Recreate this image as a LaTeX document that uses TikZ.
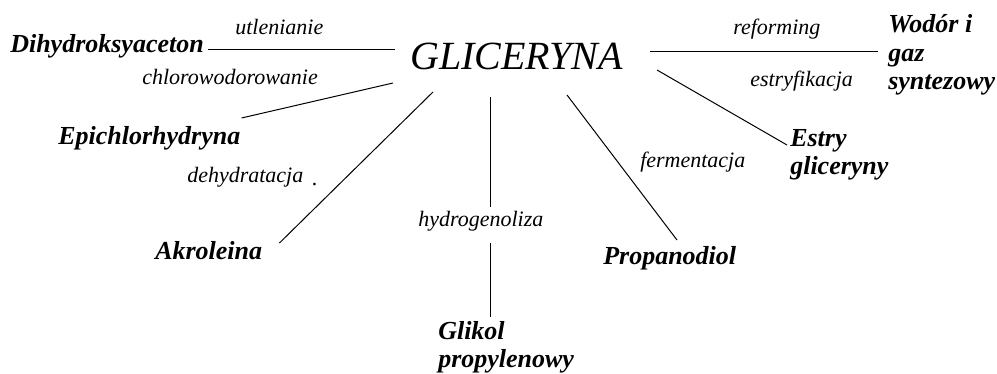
\documentclass[tikz,border=0pt]{standalone}
\usepackage{fontspec}
\setmainfont{Liberation Serif}
\begin{document}
\begin{tikzpicture}[x=0.75pt,y=-0.75pt,
  glic/.style={font=\fontsize{30}{32}\selectfont\itshape, inner sep=0pt},
  prod/.style={font=\fontsize{19.5}{21.4}\selectfont\bfseries\itshape, inner sep=0pt, align=left},
  proc/.style={font=\fontsize{16.5}{18}\selectfont\itshape, inner sep=0pt},
  conn/.style={line width=0.75pt}]
  \useasboundingbox (0,0) rectangle (997,374);
  % substrat
  \node[glic, anchor=base west] (glic) at (410,70) {GLICERYNA};
  % produkty (wielowierszowe: base = ostatni wiersz)
  \node[prod, anchor=base west] (dihy) at (10,53) {Dihydroksyaceton};
  \node[prod, anchor=base west] (epi) at (58,145) {Epichlorhydryna};
  \node[prod, anchor=base west] (akro) at (155,260) {Akroleina};
  \node[prod, anchor=base west] (glik) at (438,368) {Glikol\\propylenowy};
  \node[prod, anchor=base west] (prop) at (603,265) {Propanodiol};
  \node[prod, anchor=base west] (estry) at (790,175) {Estry\\gliceryny};
  \node[prod, anchor=base west] (wodor) at (888,90) {Wodór i\\gaz\\syntezowy};
  % procesy
  \node[proc, anchor=base west] (utl) at (235,35) {utlenianie};
  \node[proc, anchor=base west] (chlor) at (142,85) {chlorowodorowanie};
  \node[proc, anchor=base west] (dehy) at (187,183) {dehydratacja};
  \node[proc] (kropka) at (315,185) {.};
  \node[proc, anchor=base west] (hydro) at (418,227) {hydrogenoliza};
  \node[proc, anchor=base west] (ferm) at (640,168) {fermentacja};
  \node[proc, anchor=base west] (refo) at (733,35) {reforming};
  \node[proc, anchor=base west] (estr) at (750,87) {estryfikacja};
  % linie
  \draw[conn] ([shift={(4,-3)}]dihy.base east) -- ([shift={(-15,-20)}]glic.base west);
  \draw[conn] ([shift={(1,-27)}]epi.base east) -- ([shift={(-17,13)}]glic.base west);
  \draw[conn] ([shift={(17,-17)}]akro.base east) -- ([shift={(23,22)}]glic.base west);
  \draw[conn] ([shift={(80,27)}]glic.base west) -- ([shift={(72,-20)}]hydro.base west);
  \draw[conn] ([shift={(72,16)}]hydro.base west) -- ([shift={(52,-51)}]glik.base west);
  \draw[conn] ([shift={(157,25)}]glic.base west) -- ([shift={(74,-25)}]prop.base west);
  \draw[conn] ([shift={(240,-18)}]glic.base west) -- ([shift={(-10,-38)}]wodor.base west);
  \draw[conn] ([shift={(247,0)}]glic.base west) -- ([shift={(-3,-30)}]estry.base west);
\end{tikzpicture}
\end{document}
